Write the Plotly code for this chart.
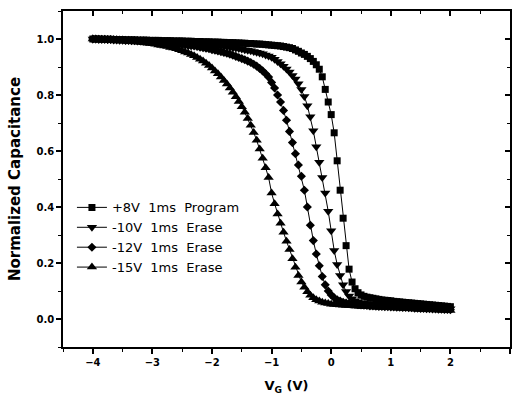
import numpy as np
import plotly.graph_objects as go

# Gate voltage sweep (V)
vg = np.round(np.arange(-4.0, 2.0001, 0.05), 2)

prog_8v = [
    1.000, 1.000, 1.000, 0.999, 0.999, 0.999, 0.999, 0.998, 0.998, 0.998,
    0.998, 0.997, 0.997, 0.997, 0.997, 0.996, 0.996, 0.996, 0.996, 0.995,
    0.995, 0.995, 0.995, 0.994, 0.994, 0.994, 0.994, 0.993, 0.993, 0.993,
    0.993, 0.992, 0.992, 0.992, 0.991, 0.991, 0.991, 0.990, 0.990, 0.990,
    0.989, 0.989, 0.989, 0.988, 0.988, 0.987, 0.987, 0.987, 0.986, 0.986,
    0.985, 0.985, 0.984, 0.984, 0.983, 0.982, 0.982, 0.981, 0.980, 0.979,
    0.978, 0.977, 0.976, 0.975, 0.973, 0.971, 0.969, 0.966, 0.961, 0.956,
    0.950, 0.945, 0.938, 0.930, 0.920, 0.908, 0.892, 0.865, 0.820, 0.775,
    0.730, 0.665, 0.565, 0.460, 0.360, 0.262, 0.178, 0.132, 0.108, 0.094,
    0.086, 0.081, 0.078, 0.076, 0.074, 0.072, 0.070, 0.068, 0.067, 0.066,
    0.065, 0.063, 0.062, 0.061, 0.060, 0.059, 0.058, 0.057, 0.056, 0.055,
    0.054, 0.053, 0.052, 0.051, 0.050, 0.049, 0.048, 0.047, 0.046, 0.045,
    0.044,
]

erase_10v = [
    1.000, 1.000, 0.999, 0.999, 0.999, 0.998, 0.998, 0.998, 0.997, 0.997,
    0.997, 0.996, 0.996, 0.995, 0.995, 0.995, 0.994, 0.994, 0.993, 0.993,
    0.992, 0.992, 0.991, 0.991, 0.990, 0.990, 0.989, 0.989, 0.988, 0.987,
    0.987, 0.986, 0.985, 0.985, 0.984, 0.983, 0.982, 0.981, 0.980, 0.979,
    0.978, 0.977, 0.976, 0.975, 0.974, 0.972, 0.971, 0.969, 0.968, 0.966,
    0.964, 0.962, 0.960, 0.958, 0.955, 0.953, 0.950, 0.947, 0.943, 0.939,
    0.935, 0.928, 0.920, 0.912, 0.903, 0.893, 0.882, 0.870, 0.857, 0.840,
    0.820, 0.795, 0.762, 0.722, 0.672, 0.615, 0.560, 0.505, 0.450, 0.385,
    0.315, 0.245, 0.195, 0.155, 0.122, 0.098, 0.082, 0.072, 0.065, 0.061,
    0.058, 0.056, 0.055, 0.054, 0.053, 0.052, 0.051, 0.050, 0.049, 0.048,
    0.047, 0.046, 0.046, 0.045, 0.045, 0.044, 0.044, 0.043, 0.043, 0.042,
    0.042, 0.041, 0.041, 0.040, 0.040, 0.039, 0.039, 0.038, 0.038, 0.037,
    0.037,
]

erase_12v = [
    1.000, 1.000, 0.999, 0.999, 0.999, 0.998, 0.998, 0.997, 0.997, 0.996,
    0.996, 0.995, 0.995, 0.994, 0.994, 0.993, 0.993, 0.992, 0.992, 0.991,
    0.990, 0.989, 0.988, 0.988, 0.987, 0.986, 0.985, 0.984, 0.983, 0.982,
    0.980, 0.979, 0.977, 0.976, 0.975, 0.973, 0.971, 0.969, 0.967, 0.965,
    0.962, 0.960, 0.957, 0.955, 0.952, 0.949, 0.946, 0.942, 0.938, 0.934,
    0.930, 0.926, 0.921, 0.916, 0.910, 0.903, 0.895, 0.886, 0.876, 0.864,
    0.845, 0.825, 0.800, 0.775, 0.745, 0.710, 0.670, 0.630, 0.590, 0.550,
    0.510, 0.460, 0.400, 0.335, 0.280, 0.232, 0.190, 0.152, 0.122, 0.100,
    0.086, 0.076, 0.069, 0.064, 0.060, 0.057, 0.055, 0.053, 0.052, 0.051,
    0.050, 0.049, 0.048, 0.047, 0.047, 0.046, 0.045, 0.045, 0.044, 0.044,
    0.043, 0.043, 0.042, 0.042, 0.041, 0.041, 0.040, 0.040, 0.039, 0.039,
    0.038, 0.038, 0.037, 0.037, 0.036, 0.036, 0.035, 0.035, 0.034, 0.034,
    0.033,
]

erase_15v = [
    1.000, 0.999, 0.999, 0.998, 0.998, 0.997, 0.997, 0.996, 0.995, 0.995,
    0.994, 0.993, 0.992, 0.991, 0.990, 0.989, 0.988, 0.987, 0.986, 0.984,
    0.983, 0.981, 0.979, 0.977, 0.975, 0.973, 0.970, 0.968, 0.965, 0.962,
    0.958, 0.954, 0.950, 0.945, 0.940, 0.934, 0.928, 0.921, 0.913, 0.905,
    0.896, 0.886, 0.876, 0.864, 0.852, 0.839, 0.825, 0.810, 0.794, 0.777,
    0.758, 0.738, 0.716, 0.692, 0.666, 0.638, 0.607, 0.574, 0.540, 0.505,
    0.450, 0.412, 0.375, 0.342, 0.310, 0.278, 0.248, 0.215, 0.185, 0.155,
    0.132, 0.113, 0.097, 0.085, 0.076, 0.069, 0.064, 0.060, 0.057, 0.055,
    0.053, 0.052, 0.051, 0.050, 0.049, 0.048, 0.048, 0.047, 0.046, 0.046,
    0.045, 0.045, 0.044, 0.044, 0.043, 0.043, 0.042, 0.042, 0.041, 0.041,
    0.040, 0.040, 0.039, 0.039, 0.038, 0.038, 0.037, 0.037, 0.036, 0.036,
    0.035, 0.035, 0.034, 0.034, 0.033, 0.033, 0.032, 0.032, 0.031, 0.031,
    0.030,
]

series_names = ["+8V  1ms  Program", "-10V  1ms  Erase", "-12V  1ms  Erase", "-15V  1ms  Erase"]
series_values = [prog_8v, erase_10v, erase_12v, erase_15v]
symbols = ["square", "triangle-down", "diamond", "triangle-up"]
sizes = [7, 9, 7, 9]

fig = go.Figure()
for name, vals, sym, sz in zip(series_names, series_values, symbols, sizes):
    fig.add_trace(go.Scatter(
        x=vg, y=vals, name=name, mode="lines+markers",
        line=dict(color="black", width=1),
        marker=dict(symbol=sym, size=sz, color="black"),
    ))

# invisible trace to activate mirror axes (top/right with inside ticks)
fig.add_trace(go.Scatter(x=[0], y=[0], xaxis="x2", yaxis="y2",
                         mode="markers", marker=dict(opacity=0),
                         showlegend=False, hoverinfo="skip"))

font_main = "DejaVu Sans, Verdana, sans-serif"
xr = [-4.5, 3.0]
yr = [-0.1, 1.1]

fig.update_layout(
    width=512, height=407,
    margin=dict(l=63, r=2, t=11, b=60),
    paper_bgcolor="white", plot_bgcolor="white",
    font=dict(family=font_main, size=11, color="black"),
    showlegend=True,
    legend=dict(
        x=0.02, y=0.46, xanchor="left", yanchor="top",
        bgcolor="rgba(0,0,0,0)", borderwidth=0,
        font=dict(size=13, family=font_main),
        tracegroupgap=0, itemwidth=30,
    ),
    xaxis=dict(
        range=xr, dtick=1, tick0=0, showgrid=False, zeroline=False,
        showline=True, linecolor="black", linewidth=1.5,
        ticks="outside", ticklen=5, tickwidth=1.5, tickcolor="black",
        minor=dict(ticks="outside", dtick=0.5, tick0=0, ticklen=3, tickwidth=1, tickcolor="black"),
        tickfont=dict(size=10, family=font_main, weight="bold"),
        title=dict(text="V<sub>G</sub> (V)", standoff=14,
                   font=dict(size=13, family=font_main, weight="bold")),
    ),
    yaxis=dict(
        range=yr, dtick=0.2, tick0=0, tickformat=".1f", showgrid=False, zeroline=False,
        showline=True, linecolor="black", linewidth=1.5,
        ticks="outside", ticklen=5, tickwidth=1.5, tickcolor="black",
        minor=dict(ticks="outside", dtick=0.1, tick0=0, ticklen=3, tickwidth=1, tickcolor="black"),
        tickfont=dict(size=10, family=font_main, weight="bold"),
        title=dict(text="Normalized Capacitance", standoff=12,
                   font=dict(size=15, family=font_main, weight="bold")),
    ),
    xaxis2=dict(
        range=xr, overlaying="x", side="top", anchor="y", dtick=1, tick0=0,
        showgrid=False, zeroline=False, showticklabels=False,
        showline=True, linecolor="black", linewidth=1.5,
        ticks="inside", ticklen=5, tickwidth=1.5, tickcolor="black",
        minor=dict(ticks="inside", dtick=0.5, tick0=0, ticklen=3, tickwidth=1, tickcolor="black"),
    ),
    yaxis2=dict(
        range=yr, overlaying="y", side="right", anchor="x", dtick=0.2, tick0=0,
        showgrid=False, zeroline=False, showticklabels=False,
        showline=True, linecolor="black", linewidth=1.5,
        ticks="inside", ticklen=5, tickwidth=1.5, tickcolor="black",
        minor=dict(ticks="inside", dtick=0.1, tick0=0, ticklen=3, tickwidth=1, tickcolor="black"),
    ),
)

fig.write_html("out.html")
